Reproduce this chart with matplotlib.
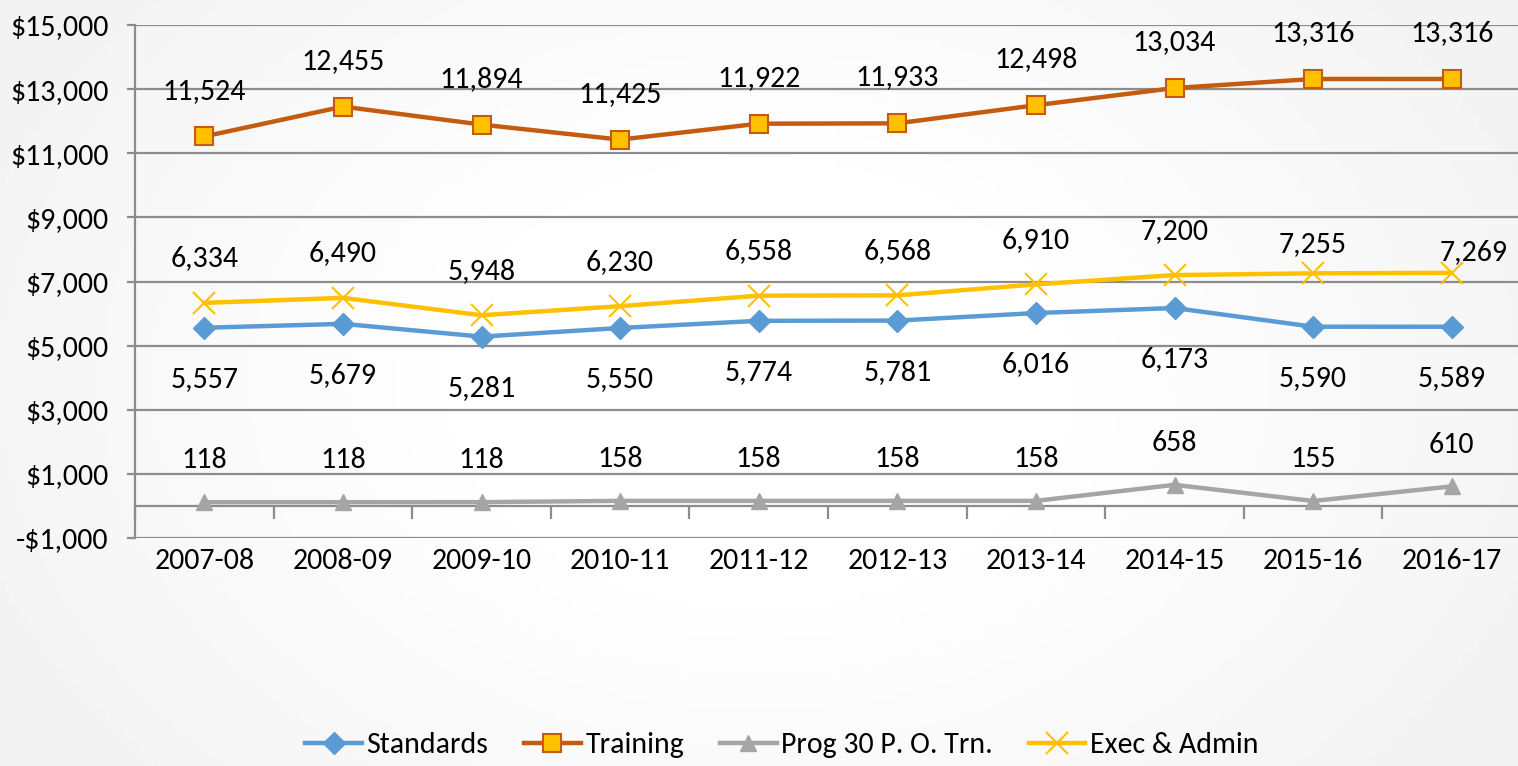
import numpy as np
import matplotlib.pyplot as plt
from matplotlib.ticker import FuncFormatter

years = ['2007-08', '2008-09', '2009-10', '2010-11', '2011-12',
         '2012-13', '2013-14', '2014-15', '2015-16', '2016-17']
standards = [5557, 5679, 5281, 5550, 5774, 5781, 6016, 6173, 5590, 5589]
training = [11524, 12455, 11894, 11425, 11922, 11933, 12498, 13034, 13316, 13316]
prog30 = [118, 118, 118, 158, 158, 158, 158, 658, 155, 610]
exec_admin = [6334, 6490, 5948, 6230, 6558, 6568, 6910, 7200, 7255, 7269]

plt.rcParams['font.family'] = ['Carlito', 'DejaVu Sans']
fs = 21.5

fig = plt.figure(figsize=(15.18, 7.66), dpi=100)

# soft gray-to-white background like the slide
bg = fig.add_axes([0, 0, 1, 1], zorder=-10)
gx = np.linspace(-1, 1, 300)
gy = np.linspace(-1, 1, 150)
GX, GY = np.meshgrid(gx, gy)
shade = 1.0 - 0.06 * np.clip(np.sqrt(GX ** 2 + GY ** 2 * 0.5) - 0.35, 0, 1)
bg.imshow(shade, cmap='gray', vmin=0, vmax=1, aspect='auto', extent=[0, 1, 0, 1])
bg.axis('off')

ax = fig.add_axes([135 / 1518, 1 - 538 / 766, 1386 / 1518, 513 / 766])
ax.patch.set_alpha(0)
x = np.arange(len(years))

grid_col = '#8c8c8c'
ax.set_ylim(-1000, 15000)
ax.set_xlim(-0.5, len(years) - 0.5)
ax.set_yticks(np.arange(-1000, 15001, 2000))
ax.yaxis.set_major_formatter(FuncFormatter(lambda v, p: ('-$' if v < 0 else '$') + f'{abs(int(v)):,}'))
ax.grid(axis='y', color=grid_col, linewidth=1.6)
ax.set_axisbelow(True)
for s in ['top', 'right', 'bottom']:
    ax.spines[s].set_visible(False)
ax.spines['left'].set_color(grid_col)
ax.spines['left'].set_linewidth(1.6)
ax.tick_params(axis='y', length=6, width=1.6, color=grid_col, pad=13, labelsize=fs)
ax.set_xticks(x)
ax.set_xticklabels(years)
ax.tick_params(axis='x', length=0, pad=7, labelsize=fs)

# category axis crossing at zero, ticks between categories
ax.axhline(0, color=grid_col, linewidth=1.6, zorder=1)
sec = ax.secondary_xaxis(1000 / 16000)
sec.set_xticks(np.arange(-0.5, len(years) + 0.5, 1))
sec.set_xticklabels([])
sec.tick_params(length=9, width=1.6, color=grid_col, direction='out')
sec.spines['bottom'].set_visible(False)

ax.plot(x, standards, color='#5B9BD5', lw=3.2, marker='D', ms=11, label='Standards', zorder=3)
ax.plot(x, training, color='#C55A11', lw=3.2, marker='s', ms=13, mfc='#FFC000', mec='#C55A11',
        mew=1.5, label='Training', zorder=3)
ax.plot(x, prog30, color='#A5A5A5', lw=3.2, marker='^', ms=11, label='Prog 30 P. O. Trn.', zorder=3)
ax.plot(x, exec_admin, color='#FFC000', lw=3.2, marker='x', ms=16, mew=1.5, label='Exec & Admin', zorder=3)

for vals, dy in [(training, 33), (exec_admin, 32), (standards, -37), (prog30, 30)]:
    for i, (xi, v) in enumerate(zip(x, vals)):
        off = (0, dy)
        if vals is exec_admin and i == 8:
            off = (0, 21)
        if vals is exec_admin and i == 9:
            off = (16, 15)
        ax.annotate(f'{v:,}', (xi, v), xytext=off, textcoords='offset points',
                    ha='center', va='center', fontsize=fs)

fig.legend(loc='center', bbox_to_anchor=(0.515, 1 - 745 / 766), ncol=4, frameon=False,
           fontsize=fs, handlelength=1.9, columnspacing=1.2, handletextpad=0.15)

fig.savefig('out.png', dpi=100)
